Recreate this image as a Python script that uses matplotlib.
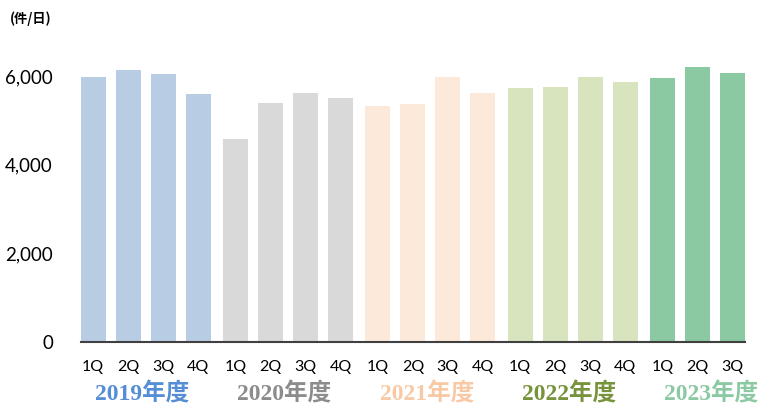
import numpy as np
import matplotlib.pyplot as plt

# 四半期ごとの1日あたり件数
quarters = ['1Q', '2Q', '3Q', '4Q']
years = ['2019年度', '2020年度', '2021年度', '2022年度', '2023年度']
v2019 = [5980, 6145, 6055, 5605]
v2020 = [4595, 5395, 5630, 5520]
v2021 = [5335, 5380, 5975, 5620]
v2022 = [5725, 5755, 5990, 5860]
v2023 = [5950, 6220, 6085]

bar_colors = ['#b8cce4', '#d9d9d9', '#fde9d9', '#d7e4bd', '#8bc9a3']
label_colors = ['#558ed5', '#8c8c8c', '#f9c9a6', '#77933c', '#8bc9a3']

series = [v2019, v2020, v2021, v2022, v2023]
gap = 0.07   # 年度間の少しの隙間
width = 0.714

fig = plt.figure(figsize=(7.61, 4.07), dpi=100)
ax = fig.add_axes([0.106, 0.1597, 0.873, 0.7617])

xs_all = []
labels_all = []
for g, vals in enumerate(series):
    xs = np.arange(len(vals)) + g * 4 + g * gap
    ax.bar(xs, vals, width=width, color=bar_colors[g], edgecolor='none')
    xs_all.extend(xs)
    labels_all.extend(quarters[:len(vals)])
    cx = g * 4 + 1.4 + g * gap
    ax.text(cx, -0.166, years[g], transform=ax.get_xaxis_transform(),
            ha='center', va='center', fontsize=17, fontweight='bold',
            color=label_colors[g], family=['Liberation Serif', 'Noto Sans CJK JP'],
            clip_on=False)

ax.set_xlim(-width / 2, 18 + 4 * gap + width / 2)
ax.set_ylim(0, 7000)
ax.set_xticks(xs_all)
ax.set_xticklabels(labels_all, fontsize=11.5, family='Lato')
ax.tick_params(axis='x', length=0, pad=13)
ax.set_yticks([0, 2000, 4000, 6000])
ax.set_yticklabels(['0', '2,000', '4,000', '6,000'], fontsize=13.5, family='Lato')
ax.tick_params(axis='y', length=0, pad=20)

for s in ['top', 'right', 'left']:
    ax.spines[s].set_visible(False)
ax.spines['bottom'].set_color('#404040')
ax.spines['bottom'].set_linewidth(1.5)

fig.text(0.013, 0.955, '(件/日)', fontsize=9.5, fontweight='bold',
         family=['Noto Sans CJK JP', 'DejaVu Sans'], va='center', ha='left')

fig.savefig('out.png', dpi=100)
